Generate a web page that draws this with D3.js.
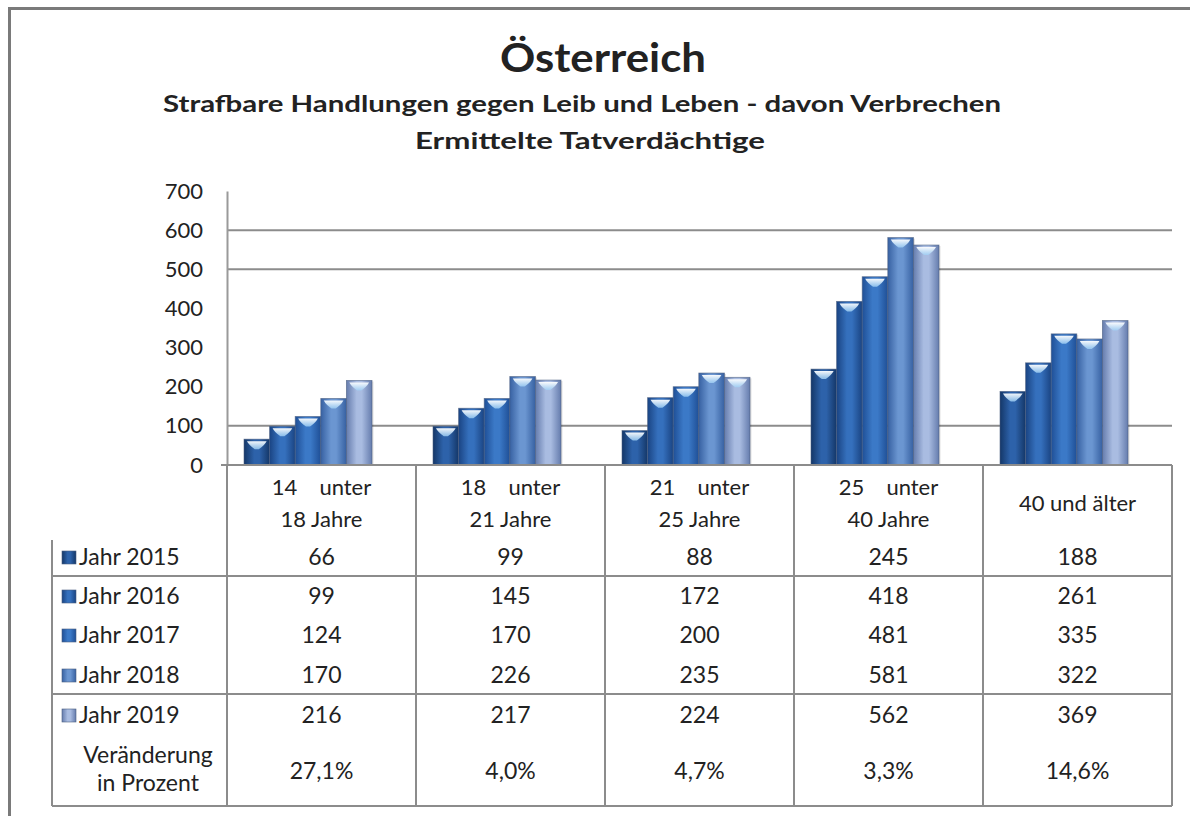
<!DOCTYPE html>
<html>
<head>
<meta charset="utf-8">
<script src="https://cdn.jsdelivr.net/npm/d3@7"></script>
<style>
  html, body { margin: 0; padding: 0; background: #fff; }
  svg { display: block; }
  text { font-family: Lato, "Open Sans", sans-serif; fill: #222; }
</style>
</head>
<body>
<svg id="chart" width="1190" height="816"></svg>
<script>
// Age groups (two-line headers; the dash between the numbers is not printed)
const categories = ["14-18", "18-21", "21-25", "25-40", "40+"];
const categoryLabels = [
  ["14\u2003 unter", "18 Jahre"],
  ["18\u2003 unter", "21 Jahre"],
  ["21\u2003 unter", "25 Jahre"],
  ["25\u2003 unter", "40 Jahre"],
  ["40 und älter"]
];
const seriesNames = ["Jahr 2015", "Jahr 2016", "Jahr 2017", "Jahr 2018", "Jahr 2019"];
const jahr2015 = [66, 99, 88, 245, 188];
const jahr2016 = [99, 145, 172, 418, 261];
const jahr2017 = [124, 170, 200, 481, 335];
const jahr2018 = [170, 226, 235, 581, 322];
const jahr2019 = [216, 217, 224, 562, 369];
const veraenderung = ["27,1%", "4,0%", "4,7%", "3,3%", "14,6%"];
const yTicks = [0, 100, 200, 300, 400, 500, 600, 700];
const gridValues = [100, 500, 600];

const seriesValues = [jahr2015, jahr2016, jahr2017, jahr2018, jahr2019];
// edge / centre colours of the shaded columns
const seriesColors = [
  { edge: "#143768", mid: "#2d62aa" },
  { edge: "#1a4483", mid: "#3570bd" },
  { edge: "#1f4f96", mid: "#3b79c7" },
  { edge: "#3761a2", mid: "#6b96d1" },
  { edge: "#657cad", mid: "#a9bce1" }
];

const svg = d3.select("#chart");
const defs = svg.append("defs");

seriesColors.forEach((c, i) => {
  const g = defs.append("linearGradient").attr("id", "bar" + i)
    .attr("x1", 0).attr("x2", 1).attr("y1", 0).attr("y2", 0);
  g.append("stop").attr("offset", "0%").attr("stop-color", c.edge);
  g.append("stop").attr("offset", "40%").attr("stop-color", c.mid);
  g.append("stop").attr("offset", "60%").attr("stop-color", c.mid);
  g.append("stop").attr("offset", "100%").attr("stop-color", c.edge);
});
const capGrad = defs.append("linearGradient").attr("id", "cap")
  .attr("x1", 0).attr("x2", 0).attr("y1", 0).attr("y2", 1);
capGrad.append("stop").attr("offset", "0%").attr("stop-color", "#ffffff").attr("stop-opacity", 0.95);
capGrad.append("stop").attr("offset", "100%").attr("stop-color", "#9fd0f5").attr("stop-opacity", 0.8);

// outer frame (top and left edges)
svg.append("line").attr("x1", 8).attr("x2", 1190).attr("y1", 8.5).attr("y2", 8.5)
  .attr("stroke", "#7a7a7a").attr("stroke-width", 3);
svg.append("line").attr("x1", 9.5).attr("x2", 9.5).attr("y1", 7).attr("y2", 816)
  .attr("stroke", "#7a7a7a").attr("stroke-width", 3);

// titles
svg.append("text").attr("x", 603).attr("y", 72).attr("text-anchor", "middle")
  .style("font-size", "40px").style("font-weight", "bold").attr("textLength", 206)
  .attr("lengthAdjust", "spacingAndGlyphs").text("Österreich");
svg.append("text").attr("x", 582).attr("y", 112).attr("text-anchor", "middle")
  .style("font-size", "23px").style("font-weight", "bold").attr("textLength", 838)
  .attr("lengthAdjust", "spacingAndGlyphs")
  .text("Strafbare Handlungen gegen Leib und Leben - davon Verbrechen");
svg.append("text").attr("x", 590).attr("y", 149).attr("text-anchor", "middle")
  .style("font-size", "23px").style("font-weight", "bold").attr("textLength", 350)
  .attr("lengthAdjust", "spacingAndGlyphs").text("Ermittelte Tatverdächtige");

// scales
const x = d3.scaleBand().domain(categories).range([227, 1172]).paddingInner(0).paddingOuter(0);
const y = d3.scaleLinear().domain([0, 700]).range([465, 191]);
const xs = d3.scaleBand().domain(d3.range(seriesNames.length))
  .range([17, 145]).paddingInner(0);

// gridlines
svg.append("g").selectAll("line").data(gridValues).join("line")
  .attr("x1", 227).attr("x2", 1172)
  .attr("y1", d => y(d)).attr("y2", d => y(d))
  .attr("stroke", "#8c8c8c").attr("stroke-width", 2);

// y axis
const yAxis = svg.append("g").attr("transform", "translate(227,0)")
  .call(d3.axisLeft(y).tickValues(yTicks).tickSize(0).tickPadding(24));
yAxis.select(".domain").attr("stroke", "#9a9a9a").attr("stroke-width", 2);
yAxis.selectAll("text").style("font-size", "22px").style("font-family", "Lato, sans-serif")
  .attr("fill", "#333");

// columns
const bars = svg.append("g");
categories.forEach((cat, ci) => {
  seriesValues.forEach((vals, si) => {
    const bx = x(cat) + xs(si);
    const bw = xs.bandwidth();
    const top = y(vals[ci]);
    const h = y(0) - top;
    bars.append("rect").attr("x", bx + 1.5).attr("y", top + 1).attr("width", bw).attr("height", h - 1)
      .attr("fill", "#000").attr("opacity", 0.12);
    bars.append("rect").attr("x", bx).attr("y", top).attr("width", bw).attr("height", h)
      .attr("fill", `url(#bar${si})`).attr("stroke", "#4b5f80").attr("stroke-width", 0.8)
      .attr("stroke-opacity", 0.7);
    // bevelled highlight at the top of the column
    const p = d3.path();
    p.moveTo(bx + 3, top + 2);
    p.lineTo(bx + bw - 3, top + 2);
    p.quadraticCurveTo(bx + bw - 5, top + 6, bx + bw / 2 + 2, top + 10);
    p.lineTo(bx + bw / 2 - 2, top + 10);
    p.quadraticCurveTo(bx + 5, top + 6, bx + 3, top + 2);
    p.closePath();
    bars.append("path").attr("d", p.toString()).attr("fill", "url(#cap)");
  });
});

// zero line
svg.append("line").attr("x1", 221).attr("x2", 1172).attr("y1", y(0)).attr("y2", y(0))
  .attr("stroke", "#8c8c8c").attr("stroke-width", 2);

// data table
const table = svg.append("g");
const tableLeft = 52, tableRight = 1172, tableBottom = 806;
const fs = "23px";
const lineStyle = sel => sel.attr("stroke", "#8c8c8c").attr("stroke-width", 2);
// vertical separators
x.domain().forEach(cat => {
  table.append("line").attr("x1", x(cat)).attr("x2", x(cat)).attr("y1", y(0)).attr("y2", tableBottom).call(lineStyle);
});
table.append("line").attr("x1", tableRight).attr("x2", tableRight).attr("y1", y(0)).attr("y2", tableBottom).call(lineStyle);
table.append("line").attr("x1", tableLeft).attr("x2", tableLeft).attr("y1", 540).attr("y2", tableBottom).call(lineStyle);
// horizontal separators
[576, 694, tableBottom].forEach(yy => {
  table.append("line").attr("x1", tableLeft).attr("x2", tableRight).attr("y1", yy).attr("y2", yy).call(lineStyle);
});

// column headers
categoryLabels.forEach((lines, ci) => {
  const cx = x(categories[ci]) + x.bandwidth() / 2;
  const ys = lines.length === 2 ? [495, 527] : [511];
  lines.forEach((ln, li) => {
    table.append("text").attr("x", cx).attr("y", ys[li]).attr("text-anchor", "middle")
      .style("font-size", "22px").text(ln);
  });
});

// series rows
const rowY = [565, 604, 643, 683, 723];
seriesNames.forEach((name, si) => {
  table.append("rect").attr("x", 62).attr("y", rowY[si] - 14).attr("width", 14).attr("height", 13)
    .attr("fill", `url(#bar${si})`).attr("stroke", "#4b5f80").attr("stroke-width", 0.6);
  table.append("text").attr("x", 79).attr("y", rowY[si]).style("font-size", fs).text(name);
  seriesValues[si].forEach((v, ci) => {
    table.append("text").attr("x", x(categories[ci]) + x.bandwidth() / 2).attr("y", rowY[si])
      .attr("text-anchor", "middle").style("font-size", fs).text(v);
  });
});

// change row
table.append("text").attr("x", 148).attr("y", 763).attr("text-anchor", "middle")
  .style("font-size", fs).text("Veränderung");
table.append("text").attr("x", 148).attr("y", 791).attr("text-anchor", "middle")
  .style("font-size", fs).text("in Prozent");
veraenderung.forEach((t, ci) => {
  table.append("text").attr("x", x(categories[ci]) + x.bandwidth() / 2).attr("y", 779)
    .attr("text-anchor", "middle").style("font-size", fs).text(t);
});
</script>
</body>
</html>
